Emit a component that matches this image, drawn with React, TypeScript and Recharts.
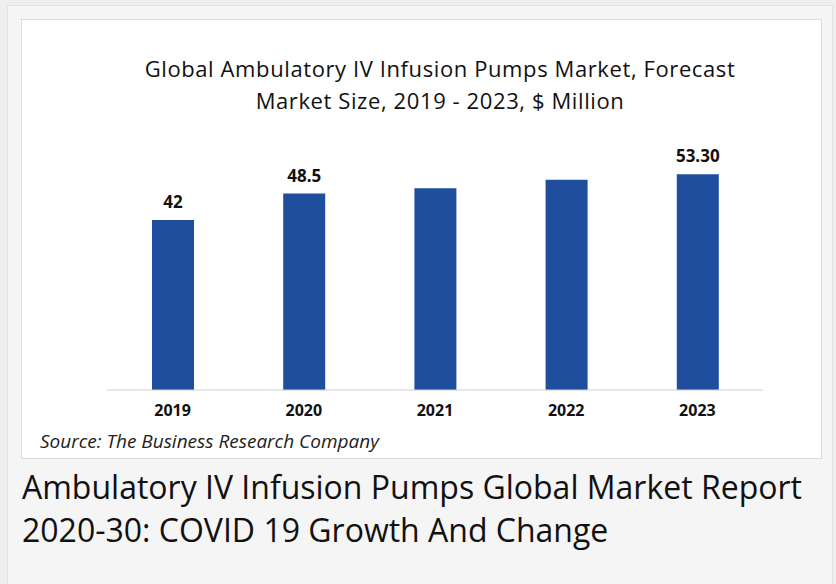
import { BarChart, Bar, XAxis, YAxis, LabelList } from 'recharts';

const years = ['2019', '2020', '2021', '2022', '2023'];
const marketSize = [42, 48.5, 49.8, 51.9, 53.3];
const valueLabels = ['42', '48.5', '', '', '53.30'];

const data = years.map((year, i) => ({
	year,
	value: marketSize[i],
	label: valueLabels[i],
}));

const font = '"Open Sans", sans-serif';

function App() {
	return (
		<div style={{ position: 'absolute', left: 0, top: 0, width: 836, height: 584, background: '#efefef', fontFamily: font, overflow: 'hidden' }}>
			<div style={{ position: 'absolute', left: 7, top: 5, width: 826, height: 600, background: '#f5f5f5', border: '1px solid #e2e2e2', boxSizing: 'border-box' }} />
			<div style={{ position: 'absolute', left: 21, top: 19, width: 801, height: 440, background: '#fff', border: '1px solid #dcdcdc', boxSizing: 'border-box' }}>
				<div style={{ position: 'absolute', left: 0, top: 32, width: 836, textAlign: 'center', fontSize: 22, letterSpacing: 0.6, lineHeight: '32px', color: '#111' }}>
					Global Ambulatory IV Infusion Pumps Market, Forecast
					<br />
					Market Size, 2019 - 2023, $ Million
				</div>
				<div style={{ position: 'absolute', left: 0, top: 0 }}>
					<BarChart width={800} height={439} data={data} margin={{ top: 127, right: 59, left: 85, bottom: 39 }}>
						<XAxis
							dataKey="year"
							height={30}
							axisLine={{ stroke: '#d0d0d0', strokeWidth: 1 }}
							tickLine={false}
							tickMargin={9}
							tick={{ fill: '#111', fontSize: 16, fontWeight: 700, fontFamily: font }}
						/>
						<YAxis hide domain={[0, 60]} />
						<Bar dataKey="value" fill="#1f4e9e" barSize={42} isAnimationActive={false}>
							<LabelList dataKey="label" position="top" offset={12} fill="#111" fontSize={17} fontWeight={700} fontFamily={font} />
						</Bar>
					</BarChart>
				</div>
				<div style={{ position: 'absolute', left: 18, top: 408, fontSize: 19, fontStyle: 'italic', color: '#222' }}>
					Source: The Business Research Company
				</div>
			</div>
			<div style={{ position: 'absolute', left: 22, top: 465, fontSize: 32, lineHeight: '43px', color: '#111' }}>
				Ambulatory IV Infusion Pumps Global Market Report
				<br />
				2020-30: COVID 19 Growth And Change
			</div>
		</div>
	);
}

export default App;
